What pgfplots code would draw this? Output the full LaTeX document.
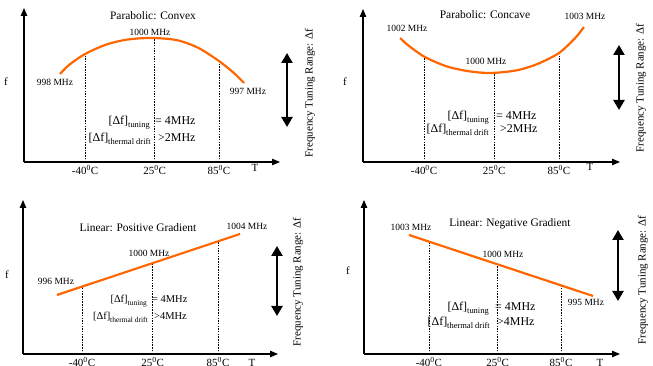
\documentclass[border=0pt]{standalone}
\usepackage{pgfplots}
\pgfplotsset{compat=1.18}
\usepackage{fontspec}
\setmainfont{Liberation Serif}
\usetikzlibrary{arrows.meta}
\definecolor{orng}{RGB}{255,102,0}
\newcommand\fs[1]{\fontsize{#1}{#1}\selectfont}
\pgfplotsset{
  panel/.style={
    scale only axis,
    anchor=south west,
    axis lines=left,
    axis line style={line width=1.1pt,-{Triangle[length=8bp,width=6.5bp]}},
    ymin=0,
    xtick={-40,25,85},
    xticklabels={-40\textsuperscript{0}C,25\textsuperscript{0}C,85\textsuperscript{0}C},
    ytick=\empty,
    major tick length=0pt,
    tick label style={font=\fs{11}},
    clip=false,
  },
  drop/.style={black, line width=0.8pt, dash pattern=on 1.5pt off 1.2pt},
  crv/.style={orng, line width=2.2pt, smooth},
}
\begin{document}
\begin{tikzpicture}
\useasboundingbox (0,0) rectangle (653bp,366bp);
% Panel 1: Parabolic convex
\begin{axis}[panel, at={(24bp,204bp)}, width=256bp, height=154bp,
  xmin=-97, xmax=142, ymax=154]
\addplot[drop] coordinates {(-40,0) (-40,108)};
\addplot[drop] coordinates {(25,0) (25,124)};
\addplot[drop] coordinates {(85,0) (85,101)};
\addplot[crv] coordinates {(-63.4,88) (-55,97) (-40,108) (-20,117.5) (0,122.5) (22,124) (45,122) (65,114.5) (85,101) (100,88) (108.4,79)};
\end{axis}
% Panel 2: Parabolic concave
\begin{axis}[panel, at={(363bp,204bp)}, width=257bp, height=153bp,
  xmin=-96.5, xmax=141.5, ymax=153]
\addplot[drop] coordinates {(-40,0) (-40,105.5)};
\addplot[drop] coordinates {(25,0) (25,89)};
\addplot[drop] coordinates {(85,0) (85,109)};
\addplot[crv] coordinates {(-62.2,124) (-55,117) (-40,105.5) (-20,96) (0,91) (21,89) (45,91.5) (65,98) (85,109) (100,124) (108.1,135)};
\end{axis}
% Panel 3: Linear positive
\begin{axis}[panel, at={(23bp,12bp)}, width=255bp, height=154bp,
  xmin=-94.2, xmax=140.1, ymax=154]
\addplot[drop] coordinates {(-40,0) (-40,67.3)};
\addplot[drop] coordinates {(25,0) (25,90.9)};
\addplot[drop] coordinates {(85,0) (85,112.7)};
\addplot[crv] coordinates {(-63,59) (105.2,120)};
\end{axis}
% Panel 4: Linear negative
\begin{axis}[panel, at={(364bp,12bp)}, width=256bp, height=154bp,
  xmin=-101.4, xmax=140.8, ymax=154]
\addplot[drop] coordinates {(-40,0) (-40,112.4)};
\addplot[drop] coordinates {(25,0) (25,89.6)};
\addplot[drop] coordinates {(85,0) (85,68.6)};
\addplot[crv] coordinates {(-58.8,119) (115.3,58)};
\end{axis}
% Annotations (pixel coordinates, origin top-left)
\begin{scope}[x=1bp,y=-1bp,yshift=366bp, every node/.style={inner sep=0pt}]
\tikzset{dbl/.style={line width=2.2bp,{Triangle[length=10bp,width=11bp]}-{Triangle[length=10bp,width=11bp]}}}
% Panel 1
\node[font=\fs{11.5}] at (153,16) {Parabolic: Convex};
\node[font=\fs{9.5}] at (150,32) {1000 MHz};
\node[font=\fs{9.5}] at (55,82) {998 MHz};
\node[font=\fs{9.5}] at (248,91) {997 MHz};
\node[font=\fs{12},anchor=base east] at (150,125) {[Δf]\raisebox{-2.5bp}{\fs{8.5}tuning}};
\node[font=\fs{12},anchor=base west] at (155,125) {= 4MHz};
\node[font=\fs{12},anchor=base east] at (151,142) {[Δf]\raisebox{-2.5bp}{\fs{8.5}thermal drift}};
\node[font=\fs{12},anchor=base west] at (158,142) {>2MHz};
\node[font=\fs{11}] at (6,82) {f};
\node[font=\fs{11}] at (255,168) {T};
\draw[dbl] (287,53) -- (287,127);
\node[font=\fs{11},rotate=90] at (310,93) {Frequency Tuning Range: Δf};
% Panel 2
\node[font=\fs{11.5}] at (485,15) {Parabolic: Concave};
\node[font=\fs{9.5}] at (407,28) {1002 MHz};
\node[font=\fs{9.5}] at (486,61) {1000 MHz};
\node[font=\fs{9.5}] at (585,16) {1003 MHz};
\node[font=\fs{12},anchor=base east] at (489,120) {[Δf]\raisebox{-2.5bp}{\fs{8.5}tuning}};
\node[font=\fs{12},anchor=base west] at (496,120) {= 4MHz};
\node[font=\fs{12},anchor=base east] at (489,133) {[Δf]\raisebox{-2.5bp}{\fs{8.5}thermal drift}};
\node[font=\fs{12},anchor=base west] at (500,133) {>2MHz};
\node[font=\fs{11}] at (345,82) {f};
\node[font=\fs{11}] at (590,167) {T};
\draw[dbl] (619,45) -- (619,110);
\node[font=\fs{11},rotate=90] at (641,88) {Frequency Tuning Range: Δf};
% Panel 3
\node[font=\fs{11.5}] at (138,228) {Linear: Positive Gradient};
\node[font=\fs{9.5}] at (56,281) {996 MHz};
\node[font=\fs{9.5}] at (149,253) {1000 MHz};
\node[font=\fs{9.5}] at (247,226) {1004 MHz};
\node[font=\fs{10.5},anchor=base east] at (147,303) {[Δf]\raisebox{-2.5bp}{\fs{7.5}tuning}};
\node[font=\fs{10.5},anchor=base west] at (152,303) {= 4MHz};
\node[font=\fs{10.5},anchor=base east] at (148,320) {[Δf]\raisebox{-2.5bp}{\fs{7.5}thermal drift}};
\node[font=\fs{10.5},anchor=base west] at (154,320) {>4MHz};
\node[font=\fs{11}] at (7,275) {f};
\node[font=\fs{11}] at (252,363) {T};
\draw[dbl] (277,246) -- (277,316);
\node[font=\fs{11},rotate=90] at (298,282) {Frequency Tuning Range: Δf};
% Panel 4
\node[font=\fs{11.5}] at (510,224) {Linear: Negative Gradient};
\node[font=\fs{9.5}] at (411,227) {1003 MHz};
\node[font=\fs{9.5}] at (503,254) {1000 MHz};
\node[font=\fs{9.5}] at (586,302) {995 MHz};
\node[font=\fs{12},anchor=base east] at (489,311) {[Δf]\raisebox{-2.5bp}{\fs{8.5}tuning}};
\node[font=\fs{12},anchor=base west] at (495,311) {= 4MHz};
\node[font=\fs{12},anchor=base east] at (490,326) {[Δf]\raisebox{-2.5bp}{\fs{8.5}thermal drift}};
\node[font=\fs{12},anchor=base west] at (497,326) {>4MHz};
\node[font=\fs{11}] at (348,271) {f};
\node[font=\fs{11}] at (600,363) {T};
\draw[dbl] (618,230) -- (618,301);
\node[font=\fs{11},rotate=90] at (643,280) {Frequency Tuning Range: Δf};
\end{scope}
\end{tikzpicture}
\end{document}
